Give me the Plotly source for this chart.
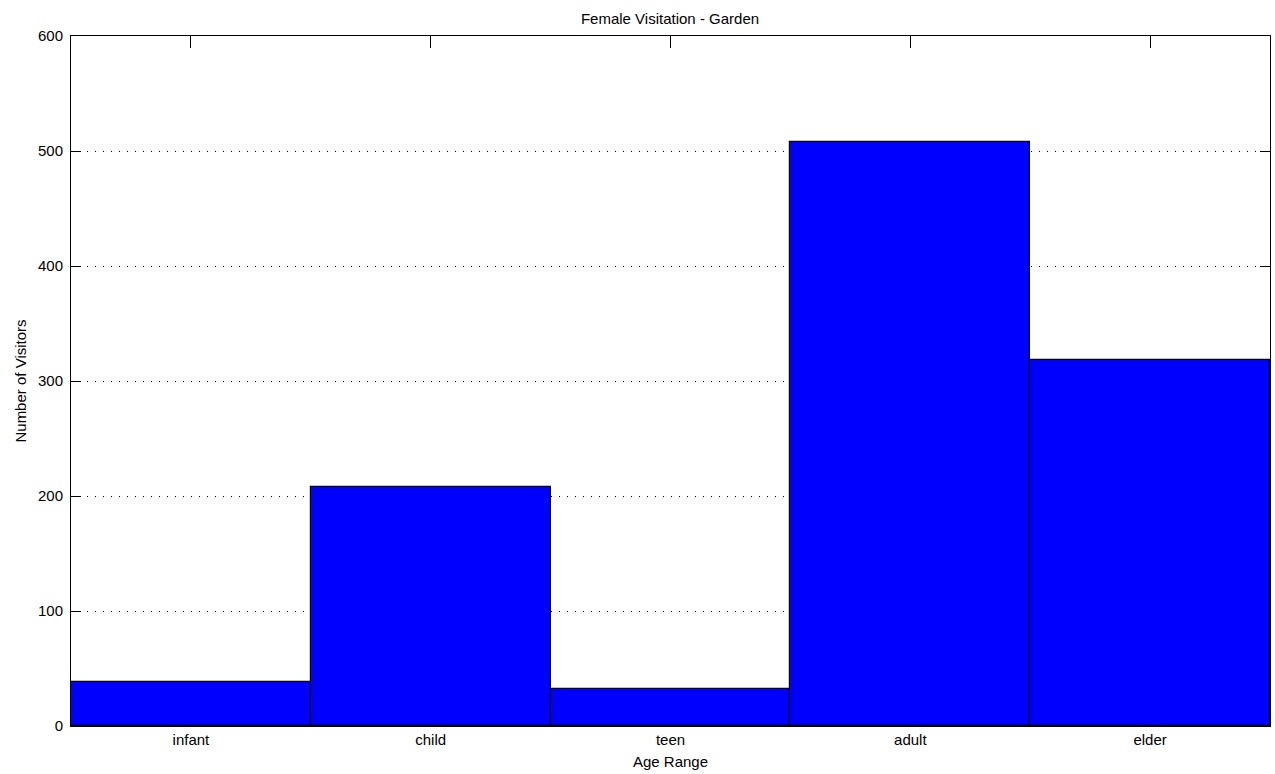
import plotly.graph_objects as go

categories = ["infant", "child", "teen", "adult", "elder"]
visitors = [38, 208, 32, 508, 318]
y_ticks = [0, 100, 200, 300, 400, 500, 600]

font_family = "Liberation Sans, Arial, sans-serif"
FS = 15

fig = go.Figure(
    go.Bar(
        x=categories,
        y=visitors,
        marker=dict(color="#0000FF", line=dict(color="black", width=1.2)),
        width=1.0,
    )
)

fig.update_layout(
    width=1275,
    height=774,
    paper_bgcolor="white",
    plot_bgcolor="white",
    margin=dict(l=71, r=5, t=36, b=48),
    bargap=0,
    showlegend=False,
    font=dict(family=font_family, size=FS, color="black"),
    title=dict(
        text="Female Visitation - Garden",
        x=0.5255,
        xanchor="center",
        y=0.9755,
        yanchor="middle",
        font=dict(family=font_family, size=FS, color="black"),
    ),
)

fig.update_xaxes(
    type="category",
    range=[-0.5, 4.5],
    showgrid=False,
    showline=True,
    linecolor="black",
    linewidth=1,
    mirror="ticks",
    ticks="inside",
    ticklen=12,
    tickcolor="black",
    tickwidth=1,
    layer="below traces",
    title=dict(text="Age Range", standoff=9, font=dict(size=FS)),
    tickfont=dict(size=FS),
    zeroline=False,
)

fig.update_yaxes(
    range=[0, 600],
    tickvals=y_ticks,
    showgrid=True,
    gridcolor="black",
    gridwidth=1,
    griddash="1px,7px",
    showline=True,
    linecolor="black",
    linewidth=1,
    mirror="ticks",
    ticks="inside",
    ticklen=10,
    tickcolor="black",
    tickwidth=1,
    ticklabelstandoff=4,
    layer="below traces",
    zeroline=False,
    title=dict(text="Number of Visitors", standoff=7, font=dict(size=FS)),
    tickfont=dict(size=FS),
)

fig.write_html(
    "out.html",
    config={"displayModeBar": False},
    post_script="document.body.style.margin='0';document.body.style.overflow='hidden';",
)
